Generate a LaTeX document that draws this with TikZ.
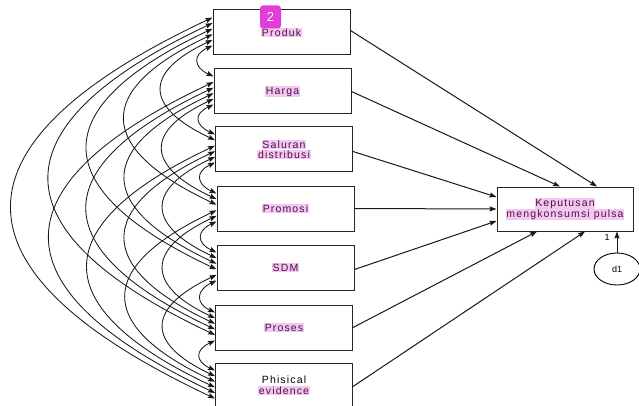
\documentclass[tikz,border=0pt]{standalone}
\usepackage{fontspec}
\setmainfont{Liberation Sans}
\newfontfamily\lbl{Liberation Sans}[LetterSpace=11]
\usetikzlibrary{arrows.meta,shapes.geometric,calc}
\definecolor{hlpink}{HTML}{F3C7EF}
\definecolor{txtpurple}{HTML}{4A1245}
\definecolor{badgecol}{HTML}{E23DD8}
\newcommand\hl[1]{{\setlength{\fboxsep}{0.6pt}\colorbox{hlpink}{\textcolor{txtpurple}{#1}}}}
\begin{document}
\begin{tikzpicture}[x=1pt,y=-1pt,
  >={Stealth[length=7pt,width=5pt,inset=1pt]},
  var/.style={draw=black!85, line width=1pt, minimum width=137pt, minimum height=45pt,
    inner sep=0pt, font=\lbl\fontsize{10.5}{10.5}\selectfont, align=center},
  cov/.style={<->, line width=0.85pt, black!90},
  reg/.style={->, line width=1pt, black!90}]
\useasboundingbox (0,0) rectangle (639,406);
\node[var] (v1) at (281.5,32.5) {\hl{Produk}};
\node[var] (v2) at (282.5,91.5) {\hl{Harga}};
\node[var] (v3) at (284,149.5) {\hl{Saluran}\\\hl{distribusi}};
\node[var] (v4) at (285.5,208.5) {\hl{Promosi}};
\node[var] (v5) at (285.5,267.5) {\hl{SDM}};
\node[var] (v6) at (284,327.5) {\hl{Proses}};
\node[var] (v7) at (284,385.5) {Phisical\\\hl{evidence}};
\node[var, minimum width=136pt, minimum height=44pt, font=\lbl\fontsize{10.5}{11}\selectfont] (kep) at (565,209) {\hl{Keputusan}\\\hl{mengkonsumsi pulsa}};
\node[draw, ellipse, minimum width=46pt, minimum height=32pt, inner sep=0pt, line width=0.9pt,
  font=\fontsize{9}{10}\selectfont] (d1) at (617,269) {d1};
\node[font=\fontsize{9}{10}\selectfont, inner sep=0pt] (one) at (607,237) {1};
% regression paths
\draw[reg] ([yshift=2pt]v1.east) -- ([xshift=32pt]kep.north);
\draw[reg] (v2.east) -- ([xshift=-5pt]kep.north);
\draw[reg] ([yshift=-2pt]v3.east) -- ([yshift=12pt]kep.west);
\draw[reg] (v4.east) -- (kep.west);
\draw[reg] ([yshift=-2pt]v5.east) -- ([yshift=-12pt]kep.west);
\draw[reg] (v6.east) -- ([xshift=-28pt]kep.south);
\draw[reg] ([yshift=-1pt]v7.east) -- ([xshift=20pt]kep.south);
\draw[reg] (d1.north) -- (d1.north |- kep.south);
% covariances
\foreach \a in {1,...,6}{
  \pgfmathtruncatemacro\s{\a+1}
  \foreach \b in {\s,...,7}{
    \pgfmathtruncatemacro\k{\b-\a}
    \pgfmathsetmacro\ya{8+5.6*(6-\k)}
    \pgfmathsetmacro\yb{8+5.6*(\k-1)}
    \pgfmathsetmacro\c{(15+37.4*(\k-1))/0.75}
    \pgfmathsetmacro\dy{\c*0.47}
    \coordinate (c\a\b a) at ([yshift=-\ya pt]v\a.north west);
    \coordinate (c\a\b b) at ([yshift=-\yb pt]v\b.north west);
    \draw[cov] (c\a\b a) .. controls ([xshift=-\c pt,yshift=-\dy pt]c\a\b a) and ([xshift=-\c pt,yshift=\dy pt]c\a\b b) .. (c\a\b b);
  }
}
\node[fill=badgecol, rounded corners=3pt, minimum width=21pt, minimum height=23pt, inner sep=0pt,
  text=white, font=\fontsize{13}{13}\selectfont] (badge) at (270.5,17) {2};
\end{tikzpicture}
\end{document}
